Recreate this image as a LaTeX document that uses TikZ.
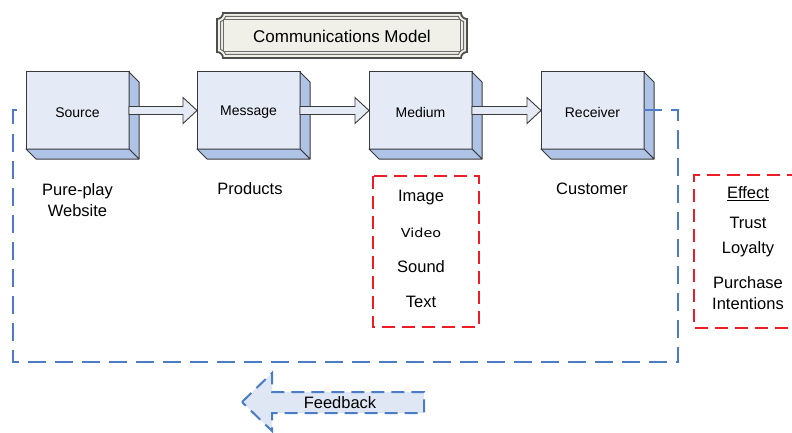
\documentclass[tikz,border=0pt]{standalone}
\usepackage{fontspec}
\setmainfont{Liberation Sans}
\newfontfamily\dvfont{DejaVu Sans}
\usetikzlibrary{calc}

\definecolor{faceC}{HTML}{E4EAF6}
\definecolor{sideC}{HTML}{AFC3E6}
\definecolor{edgeC}{HTML}{3A3A3A}
\definecolor{loopC}{HTML}{4A7CC8}
\definecolor{mediaC}{HTML}{EE1C25}
\definecolor{titleC}{HTML}{F0F0E8}
\definecolor{fbC}{HTML}{DFE7F4}

\tikzset{
  front/.style={draw=edgeC, fill=faceC, line width=1pt, minimum width=103pt,
    minimum height=77pt, inner sep=0pt, outer sep=0pt,
    font=\fontsize{14}{16}\selectfont},
  side/.style={draw=edgeC, fill=sideC, line width=1pt, line join=round},
  flow/.style={draw=edgeC, fill=faceC, line width=0.9pt, line join=miter},
  caption/.style={font=\fontsize{16.5}{21}\selectfont, align=center, inner sep=0pt},
  loopline/.style={draw=loopC, line width=2pt, dash pattern=on 18pt off 9pt},
  mediabox/.style={draw=mediaC, line width=2.6pt, dash pattern=on 13pt off 7pt},
  framedark/.style={draw=edgeC!90, line width=1.8pt},
  framelight/.style={draw=edgeC!75, line width=1pt},
}

% box with a front face, a right face and a bottom face
\newcommand\cubebox[3]{%
  \node[front] (#1) at ({#2+51.5},110.5) {};
  \node[font=\fontsize{14}{16}\selectfont, inner sep=0pt] (#1Label) at ($(#1.center)+(0,2)$) {#3};
  \draw[side] (#1.north east) -- ++(10,10) -- ++(0,77) -- (#1.south east) -- cycle;
  \draw[side] (#1.south west) -- (#1.south east) -- ++(10,10) -- ++(-103,0) -- cycle;
}

% hollow block arrow from one box to the next
\newcommand\flowarrow[2]{%
  \draw[flow] ($(#1.east)+(0,-4)$) -- ($(#2.west)+(-14,-4)$) -- ($(#2.west)+(-14,-13)$)
    -- (#2.west) -- ($(#2.west)+(-14,13)$) -- ($(#2.west)+(-14,4)$)
    -- ($(#1.east)+(0,4)$) -- cycle;
}

% rectangle with concave (notched) corners
\newcommand\notchedrect[6]{%
  \draw[#6] ({#1+#5},#2) -- ({#3-#5},#2)
    .. controls ({#3-#5},{#2+0.55*#5}) and ({#3-0.55*#5},{#2+#5}) .. (#3,{#2+#5})
    -- (#3,{#4-#5})
    .. controls ({#3-0.55*#5},{#4-#5}) and ({#3-#5},{#4-0.55*#5}) .. ({#3-#5},#4)
    -- ({#1+#5},#4)
    .. controls ({#1+#5},{#4-0.55*#5}) and ({#1+0.55*#5},{#4-#5}) .. (#1,{#4-#5})
    -- (#1,{#2+#5})
    .. controls ({#1+0.55*#5},{#2+#5}) and ({#1+#5},{#2+0.55*#5}) .. cycle;
}

\begin{document}
\begin{tikzpicture}[x=1pt, y=-1pt]
\useasboundingbox (0,0) rectangle (792,433);

% title plate
\notchedrect{217}{13}{467}{58}{6}{framedark, fill=titleC}
\notchedrect{220.5}{16.5}{463.5}{54.5}{5}{framelight}
\draw[framelight, fill=titleC] (223.5,19.5) rectangle (460.5,51.5);
\node[font=\fontsize{17}{20}\selectfont] (title) at (342,36) {Communications Model};

% the four stages
\cubebox{src}{26}{Source}
\cubebox{msg}{197}{Message}
\cubebox{med}{369}{Medium}
\cubebox{rcv}{541}{Receiver}

\flowarrow{src}{msg}
\flowarrow{msg}{med}
\flowarrow{med}{rcv}

% feedback loop
\coordinate (fbNE) at (678,110.5);
\coordinate (fbSE) at (678,362);
\coordinate (fbSW) at (13,362);
\coordinate (fbNW) at (13,110.5);
\draw[loopline] (rcv.east) -- (fbNE) -- (fbSE) -- (fbSW) -- (fbNW) -- (src.west);

% feedback arrow
\draw[fill=fbC, draw=loopC, line width=2pt, dash pattern=on 13pt off 7pt, line join=miter]
  (242,402) -- (272,373) -- (272,392) -- (424,392) -- (424,413) -- (272,413)
  -- (272,431) -- cycle;
\node[caption] (fb) at (340,403) {Feedback};

% captions under the boxes
\node[caption] (srcCap) at (77.5,200) {Pure-play\\Website};
\node[caption] (msgCap) at (250,189) {Products};
\node[caption] (rcvCap) at (592,189) {Customer};

% media types
\draw[mediabox] (373,176) rectangle (479,327);
\node[caption] (mImage) at (421,198) {Image};
\node[font=\dvfont\fontsize{12.5}{14}\selectfont, inner sep=0pt] (mVideo) at (421,233) {\scalebox{1.15}[1]{Video}};
\node[caption] (mSound) at (421,267) {Sound};
\node[caption] (mText) at (421,302) {Text};

% effects
\draw[mediabox] (800,175) -- (694,175) -- (694,328) -- (800,328);
\node[caption] (eHead) at (748,194) {\underline{Effect}};
\node[caption] (eTrust) at (748,223) {Trust};
\node[caption] (eLoyal) at (748,249) {Loyalty};
\node[caption] (ePurch) at (748,293) {Purchase\\Intentions};
\end{tikzpicture}
\end{document}
